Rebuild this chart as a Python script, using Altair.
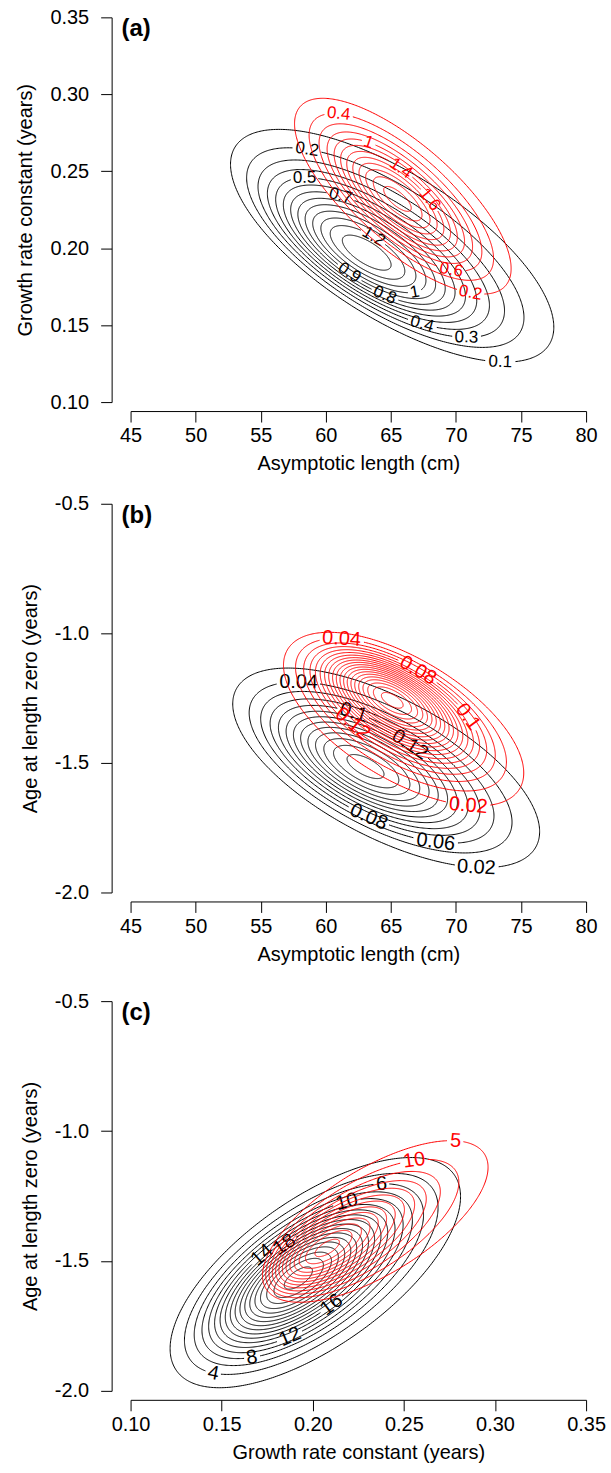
import numpy as np
import pandas as pd
import altair as alt

alt.data_transformers.disable_max_rows()
FONT = "Liberation Sans"

# ---------------- axis ticks ----------------
len_ticks = [45, 50, 55, 60, 65, 70, 75, 80]
k_ticks = [0.10, 0.15, 0.20, 0.25, 0.30, 0.35]
t0_ticks = [-2.0, -1.5, -1.0, -0.5]

# ---------------- panel (a): Linf (cm) vs K ----------------
a_blk_levels = [0.1, 0.2, 0.3, 0.4, 0.5, 0.6, 0.7, 0.8, 0.9, 1.0, 1.1, 1.2, 1.3]
a_blk_peak = 1.38
a_blk_mode = [63.1, 0.197]
a_blk_outer_centre = [65.1, 0.2016]
a_blk_outer_half = [12.42, 0.0756]
a_blk_rho = -0.70
a_blk_lab_level = [0.1, 0.2, 0.3, 0.4, 0.5, 0.7, 0.8, 0.9, 1.0, 1.2]
a_blk_lab_x = [73.47, 58.52, 70.79, 67.42, 58.37, 61.05, 64.35, 61.8, 66.8, 64.35]
a_blk_lab_y = [0.1273, 0.2636, 0.1429, 0.1526, 0.2448, 0.2312, 0.1662, 0.1844, 0.1734, 0.2169]

a_red_levels = [0.2, 0.4, 0.6, 0.8, 1.0, 1.2, 1.4, 1.6, 1.8, 2.0, 2.2, 2.4]
a_red_peak = 2.5
a_red_mode = [65.5, 0.232]
a_red_outer_centre = [65.92, 0.2338]
a_red_outer_half = [8.32, 0.0636]
a_red_rho = -0.74
a_red_lab_level = [0.2, 0.4, 0.6, 1.0, 1.4, 1.6]
a_red_lab_x = [71.17, 60.9, 69.72, 63.13, 65.43, 67.57]
a_red_lab_y = [0.1721, 0.2812, 0.189, 0.2656, 0.2474, 0.2286]

# ---------------- panel (b): Linf (cm) vs t0 ----------------
b_blk_levels = [0.02, 0.04, 0.06, 0.08, 0.10, 0.12, 0.14, 0.16, 0.18, 0.20, 0.22, 0.24, 0.26]
b_blk_peak = 0.27
b_blk_mode = [63.03, -1.514]
b_blk_outer_centre = [64.64, -1.519]
b_blk_outer_half = [11.79, 0.385]
b_blk_rho = -0.64
b_blk_lab_level = [0.02, 0.04, 0.06, 0.08, 0.10, 0.12]
b_blk_lab_x = [71.61, 57.9, 68.47, 63.34, 62.04, 66.1]
b_blk_lab_y = [-1.904, -1.212, -1.788, -1.708, -1.323, -1.46]

b_red_levels = [0.02, 0.04, 0.06, 0.08, 0.10, 0.12, 0.14, 0.16, 0.18, 0.20,
                0.22, 0.24, 0.26, 0.28, 0.30, 0.32, 0.34, 0.36, 0.38, 0.40]
b_red_peak = 0.41
b_red_mode = [65.1, -1.258]
b_red_outer_centre = [65.98, -1.331]
b_red_outer_half = [9.23, 0.335]
b_red_rho = -0.62
b_red_lab_level = [0.02, 0.04, 0.08, 0.10, 0.12]
b_red_lab_x = [70.92, 61.19, 66.3, 69.5, 63.6]
b_red_lab_y = [-1.654, -1.065, -1.208, -1.373, -1.258]

# ---------------- panel (c): K vs t0 ----------------
c_blk_levels = [2, 4, 6, 8, 10, 12, 14, 16, 18, 20, 22, 24, 26, 28, 30, 32, 34, 36]
c_blk_peak = 37
c_blk_mode = [0.192, -1.566]
c_blk_outer_centre = [0.2014, -1.545]
c_blk_outer_half = [0.0797, 0.443]
c_blk_rho = 0.66
c_blk_lab_level = [4, 8, 12, 16, 6, 10, 18, 14]
c_blk_lab_x = [0.1461, 0.166, 0.1849, 0.2074, 0.2378, 0.2182, 0.193, 0.175]
c_blk_lab_y = [-1.919, -1.849, -1.747, -1.638, -1.21, -1.267, -1.528, -1.497]

c_red_levels = [5, 10, 15, 20, 25, 30, 35, 40, 45, 50, 55, 60, 65]
c_red_peak = 67
c_red_mode = [0.2076, -1.451]
c_red_outer_centre = [0.2343, -1.348]
c_red_outer_half = [0.0619, 0.311]
c_red_rho = 0.67
c_red_lab_level = [5, 10]
c_red_lab_x = [0.2784, 0.256]
c_red_lab_y = [-1.0435, -1.12]

# ---------------- layout ----------------
PW = 457
HA, HB, HC = 386, 390, 391
BLACK = "#000000"
RED = "#ff0000"
NPTS = 420


def text_width(s, size):
    return sum(0.556 if ch.isdigit() else 0.278 for ch in s) * size


def contour_frames(levels, peak, mode, centre, half, rho,
                   lab_lev, lab_x, lab_y, pxs, font_size):
    lv = np.asarray(levels, float)
    s = np.sqrt(np.log(peak / lv) / np.log(peak / lv[0]))
    t = np.linspace(0.0, 2 * np.pi, NPTS, endpoint=False)
    cr = np.sqrt(1 - rho ** 2)
    line_rows, text_rows = [], []
    for k, L in enumerate(lv):
        cx = mode[0] + (centre[0] - mode[0]) * s[k] ** 2
        cy = mode[1] + (centre[1] - mode[1]) * s[k] ** 2
        w = half[0] * s[k]
        h = half[1] * s[k]
        x = cx + w * np.cos(t)
        y = cy + h * (rho * np.cos(t) + cr * np.sin(t))
        keep = np.ones(t.size, bool)
        for lev, hx, hy in zip(lab_lev, lab_x, lab_y):
            if abs(lev - L) > 1e-9:
                continue
            i0 = int(np.argmin(np.hypot((x - hx) * pxs[0], (y - hy) * pxs[1])))
            txt = f"{L:g}"
            gap = text_width(txt, font_size) / 2 + 2
            keep &= np.hypot((x - x[i0]) * pxs[0], (y - y[i0]) * pxs[1]) > gap
            dx = -w * np.sin(t[i0]) * pxs[0]
            dy = -h * (-rho * np.sin(t[i0]) + cr * np.cos(t[i0])) * pxs[1]
            ang = float(np.degrees(np.arctan2(dy, dx)))
            if ang > 90:
                ang -= 180
            if ang <= -90:
                ang += 180
            text_rows.append({"x": float(x[i0]), "y": float(y[i0]),
                              "label": txt, "angle": ang % 360})
        if keep.all():
            runs = [list(range(t.size)) + [0]]
        else:
            starts = [i for i in range(t.size) if keep[i] and not keep[i - 1]]
            runs = []
            for st in starts:
                run, i = [], st
                while keep[i % t.size]:
                    run.append(i % t.size)
                    i += 1
                runs.append(run)
        for r_i, run in enumerate(runs):
            for o, i in enumerate(run):
                line_rows.append({"x": float(x[i]), "y": float(y[i]),
                                  "seg": f"{k}-{r_i}", "ord": o})
    return pd.DataFrame(line_rows), pd.DataFrame(text_rows, columns=["x", "y", "label", "angle"])


def make_panel(letter, xdom, ydom, xticks, yticks, xfmt, yexpr, xtitle, ytitle,
               height, sets, font_size):
    pxs = (PW / (xdom[1] - xdom[0]), height / (ydom[1] - ydom[0]))
    xenc = alt.X("x:Q", scale=alt.Scale(domain=xdom, nice=False, zero=False),
                 axis=alt.Axis(title=xtitle, values=xticks, format=xfmt, offset=9,
                               tickSize=11, labelPadding=4, titlePadding=8,
                               labelFontSize=20, titleFontSize=20, labelFont=FONT,
                               titleFont=FONT, titleFontWeight="normal",
                               labelColor=BLACK, titleColor=BLACK, domainColor=BLACK,
                               tickColor=BLACK, grid=False, labelFlush=False,
                               labelOverlap=False))
    yenc = alt.Y("y:Q", scale=alt.Scale(domain=ydom, nice=False, zero=False),
                 axis=alt.Axis(title=ytitle, values=yticks, labelExpr=yexpr, offset=19,
                               tickSize=11, labelPadding=12, titlePadding=14,
                               labelFontSize=20, titleFontSize=20, labelFont=FONT,
                               titleFont=FONT, titleFontWeight="normal",
                               labelColor=BLACK, titleColor=BLACK, domainColor=BLACK,
                               tickColor=BLACK, grid=False, labelFlush=False,
                               labelOverlap=False))
    layers = []
    for (levels, peak, mode, centre, half, rho, ll, lx, ly, colour) in sets:
        lines, texts = contour_frames(levels, peak, mode, centre, half, rho,
                                      ll, lx, ly, pxs, font_size)
        layers.append(alt.Chart(lines).mark_line(strokeWidth=1, color=colour, clip=False)
                      .encode(x=xenc, y=yenc, detail="seg:N", order="ord:Q"))
        if len(texts):
            layers.append(alt.Chart(texts).mark_text(fontSize=font_size, font=FONT,
                                                     color=colour, align="center",
                                                     baseline="middle")
                          .encode(x=xenc, y=yenc, text="label:N",
                                  angle=alt.Angle("angle:Q", scale=None)))
    lab = pd.DataFrame({"x": [xdom[0]], "y": [ydom[1]], "label": [letter]})
    layers.append(alt.Chart(lab).mark_text(fontSize=24, font=FONT, fontWeight="bold",
                                           color=BLACK, align="left", baseline="middle",
                                           dx=-9, dy=12)
                  .encode(x=xenc, y=yenc, text="label:N"))
    return alt.layer(*layers).properties(width=PW, height=height)


fmt_t0 = "replace(format(datum.value, '.1f'), '\u2212', '-')"
fmt_k = "format(datum.value, '.2f')"

pa = make_panel("(a)", [45, 80], [0.10, 0.35], len_ticks, k_ticks, "d", fmt_k,
                "Asymptotic length (cm)", "Growth rate constant (years)", HA,
                [(a_blk_levels, a_blk_peak, a_blk_mode, a_blk_outer_centre, a_blk_outer_half,
                  a_blk_rho, a_blk_lab_level, a_blk_lab_x, a_blk_lab_y, BLACK),
                 (a_red_levels, a_red_peak, a_red_mode, a_red_outer_centre, a_red_outer_half,
                  a_red_rho, a_red_lab_level, a_red_lab_x, a_red_lab_y, RED)], 17)

pb = make_panel("(b)", [45, 80], [-2.0, -0.5], len_ticks, t0_ticks, "d", fmt_t0,
                "Asymptotic length (cm)", "Age at length zero (years)", HB,
                [(b_blk_levels, b_blk_peak, b_blk_mode, b_blk_outer_centre, b_blk_outer_half,
                  b_blk_rho, b_blk_lab_level, b_blk_lab_x, b_blk_lab_y, BLACK),
                 (b_red_levels, b_red_peak, b_red_mode, b_red_outer_centre, b_red_outer_half,
                  b_red_rho, b_red_lab_level, b_red_lab_x, b_red_lab_y, RED)], 20)

pc = make_panel("(c)", [0.10, 0.35], [-2.0, -0.5], k_ticks, t0_ticks, ".2f", fmt_t0,
                "Growth rate constant (years)", "Age at length zero (years)", HC,
                [(c_blk_levels, c_blk_peak, c_blk_mode, c_blk_outer_centre, c_blk_outer_half,
                  c_blk_rho, c_blk_lab_level, c_blk_lab_x, c_blk_lab_y, BLACK),
                 (c_red_levels, c_red_peak, c_red_mode, c_red_outer_centre, c_red_outer_half,
                  c_red_rho, c_red_lab_level, c_red_lab_x, c_red_lab_y, RED)], 20)

chart = (alt.vconcat(pa, alt.vconcat(pb, pc, spacing=27), spacing=20)
         .properties(padding={"left": 16, "top": 5, "right": 5, "bottom": 5})
         .configure(font=FONT)
         .configure_view(stroke=None))

chart.save("out.html", embed_options={"renderer": "svg", "actions": False})
